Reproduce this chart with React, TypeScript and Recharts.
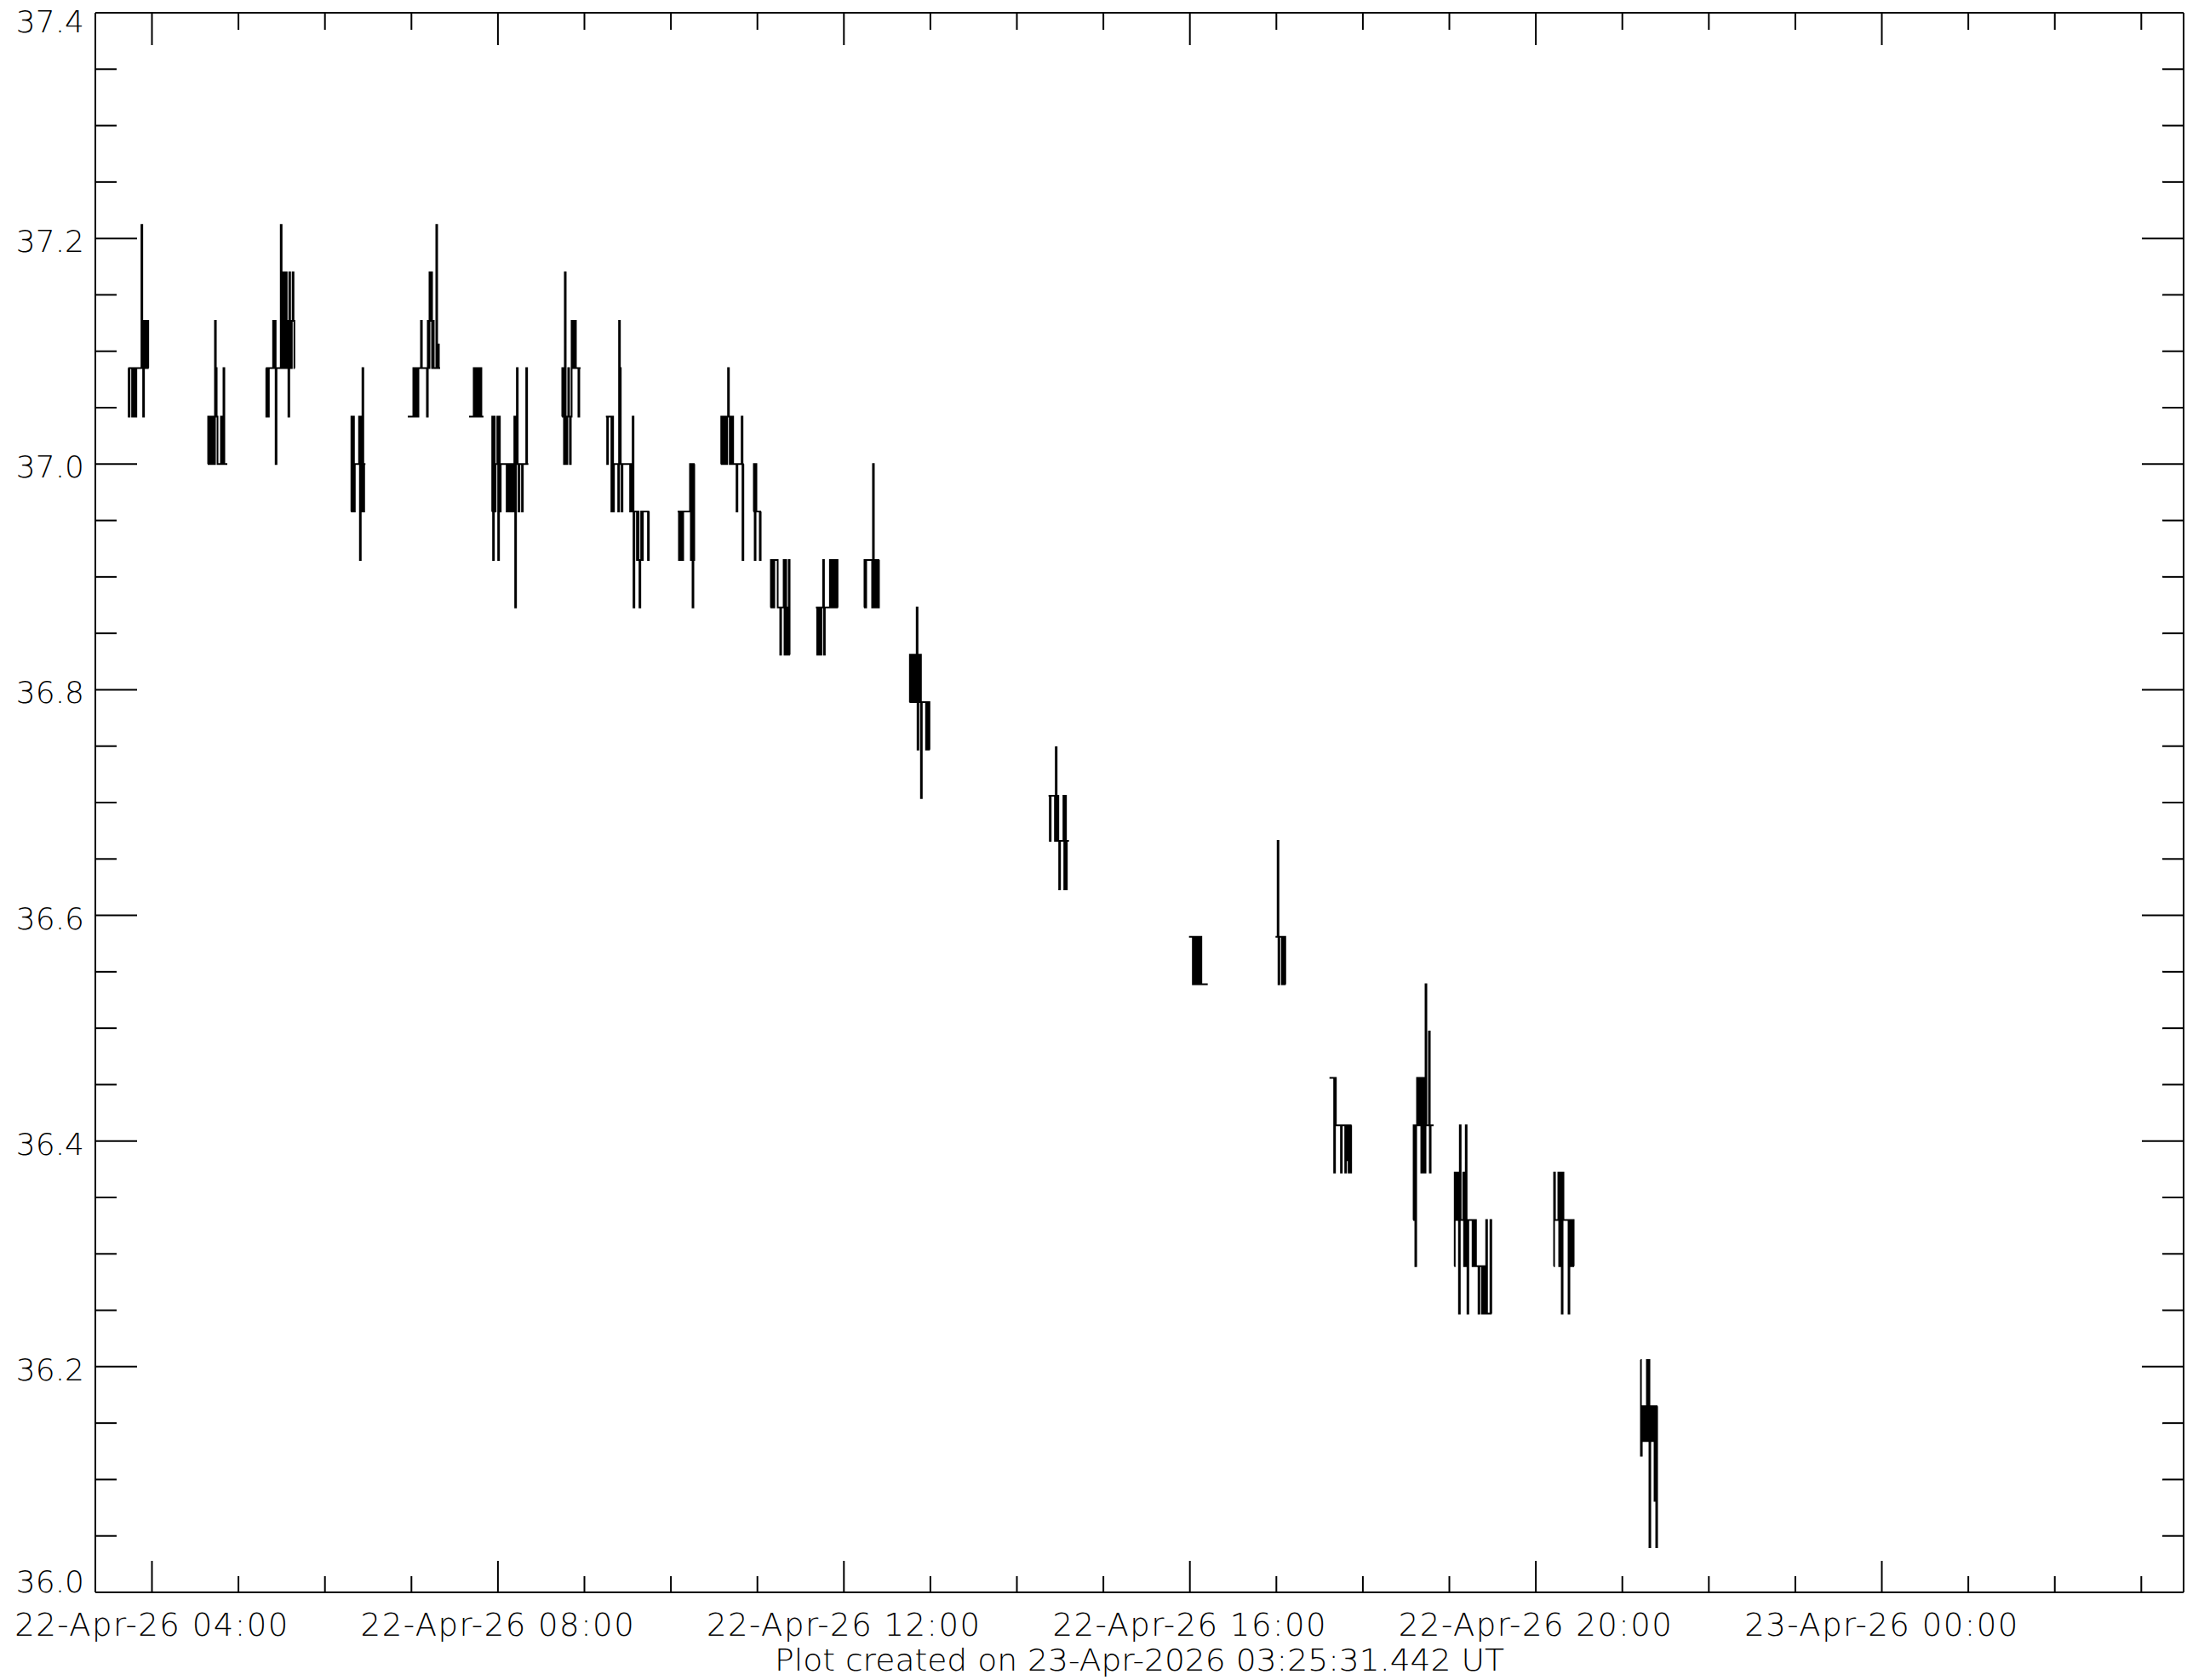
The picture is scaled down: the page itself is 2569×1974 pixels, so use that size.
import React from 'react';
import { LineChart, Line, XAxis, YAxis, Label } from 'recharts';

const CHART_W = 2569;
const CHART_H = 1974;
const FONT = '"DejaVu Sans", sans-serif';
const FONT_WEIGHT = 200;

// one reading every ~35 s while the sensor was reporting
const SAMPLE_SECONDS = 35.4;

// start of each burst of readings, in hours after 22-Apr-26 00:00 UT
const burstStartHours = [
  3.726, 4.645, 5.317, 6.301, 6.958, 7.666, 7.929, 8.739, 9.248, 10.078, 10.577, 10.954,
  11.151, 11.676, 12.233, 12.758, 14.366, 15.99, 16.99, 17.614, 18.582, 19.057, 20.206, 21.21,
];

// readings of each burst, in order
const burstReadings: number[][] = [
  [37.085, 37.042, 37.085, 37.085, 37.085, 37.042, 37.085, 37.042, 37.085, 37.042, 37.085, 37.085, 37.085,
    37.085, 37.085, 37.085, 37.212, 37.127, 37.042, 37.127, 37.085, 37.127, 37.085, 37.127, 37.085],
  [37.0, 37.042, 37.0, 37.042, 37.0, 37.042, 37.0, 37.042, 37.0, 37.127, 37.085, 37.042, 37.0, 37.0, 37.0,
    37.0, 37.042, 37.0, 37.042, 37.085, 37.0, 37.0, 37.0, 37.0],
  [37.085, 37.042, 37.085, 37.042, 37.085, 37.085, 37.085, 37.085, 37.085, 37.127, 37.085, 37.127, 37.0,
    37.085, 37.085, 37.085, 37.085, 37.085, 37.212, 37.127, 37.085, 37.17, 37.127, 37.085, 37.17, 37.085,
    37.127, 37.042, 37.17, 37.127, 37.085, 37.127, 37.17, 37.127, 37.085],
  [36.958, 37.042, 36.958, 37.042, 36.958, 37.0, 37.0, 37.0, 37.0, 37.0, 37.042, 36.915, 37.042, 36.958,
    37.085, 36.958, 37.0, 37.0],
  [37.042, 37.042, 37.042, 37.042, 37.042, 37.042, 37.042, 37.085, 37.042, 37.085, 37.042, 37.085, 37.042,
    37.085, 37.085, 37.085, 37.127, 37.085, 37.085, 37.085, 37.085, 37.085, 37.085, 37.042, 37.127, 37.085,
    37.17, 37.127, 37.17, 37.085, 37.127, 37.085, 37.085, 37.085, 37.212, 37.085, 37.106, 37.085, 37.085],
  [37.042, 37.042, 37.042, 37.042, 37.042, 37.042, 37.085, 37.042, 37.085, 37.042, 37.085, 37.042, 37.085,
    37.042, 37.085, 37.042, 37.042, 37.042],
  [36.958, 37.042, 36.915, 37.042, 36.958, 37.0, 37.0, 37.042, 36.915, 37.042, 36.958, 37.0, 37.0, 37.0,
    37.0, 37.0, 37.0, 37.0, 36.958, 37.0, 36.958, 37.0, 36.958, 37.0, 36.958, 37.0, 36.958, 37.042, 36.873,
    37.042, 37.085, 37.0, 36.958, 37.0, 37.0, 37.0, 36.958, 37.0, 37.0, 37.0, 37.0, 37.085, 37.0, 37.0],
  [37.042, 37.085, 37.042, 37.0, 37.17, 37.042, 37.0, 37.042, 37.085, 37.042, 37.0, 37.042, 37.127, 37.085,
    37.127, 37.085, 37.127, 37.085, 37.085, 37.085, 37.042, 37.085, 37.085],
  [37.042, 37.042, 37.0, 37.042, 37.042, 37.042, 37.042, 36.958, 37.042, 36.958, 37.0, 37.0, 37.0, 37.0,
    37.0, 36.958, 37.127, 37.085, 37.0, 36.958, 37.0, 37.0, 37.0, 37.0, 37.0, 37.0, 37.0, 37.0, 37.0,
    36.958, 37.0, 36.958, 37.042, 36.873, 36.958, 36.958, 36.958, 36.915, 36.958, 36.915, 36.873, 36.915,
    36.958, 36.915, 36.958, 36.958, 36.958, 36.958, 36.958, 36.958, 36.915, 36.958],
  [36.958, 36.958, 36.915, 36.958, 36.915, 36.958, 36.915, 36.958, 36.958, 36.958, 36.958, 36.958, 36.958,
    36.958, 36.958, 37.0, 36.915, 37.0, 36.873, 36.915, 37.0],
  [37.0, 37.042, 37.0, 37.042, 37.0, 37.0, 37.042, 37.0, 37.042, 37.085, 37.042, 37.0, 37.042, 37.0, 37.042,
    37.0, 37.0, 37.0, 37.0, 36.958, 37.0, 37.0, 37.0, 37.0, 37.0, 37.042, 36.915, 37.0],
  [36.958, 37.0, 36.915, 37.0, 36.958, 36.958, 36.958, 36.958, 36.915, 36.958],
  [36.873, 36.915, 36.873, 36.915, 36.873, 36.915, 36.915, 36.915, 36.915, 36.873, 36.873, 36.873, 36.831,
    36.873, 36.873, 36.873, 36.915, 36.831, 36.915, 36.831, 36.873, 36.831, 36.915, 36.831],
  [36.873, 36.873, 36.831, 36.873, 36.831, 36.873, 36.831, 36.873, 36.873, 36.915, 36.831, 36.873, 36.873,
    36.873, 36.873, 36.873, 36.873, 36.915, 36.873, 36.915, 36.873, 36.915, 36.873, 36.915, 36.873, 36.915,
    36.873],
  [36.873, 36.915, 36.873, 36.915, 36.915, 36.915, 36.915, 36.915, 36.915, 36.915, 36.873, 37.0, 36.915,
    36.873, 36.915, 36.873, 36.915, 36.873, 36.915],
  [36.789, 36.831, 36.789, 36.831, 36.789, 36.831, 36.789, 36.831, 36.789, 36.873, 36.747, 36.831, 36.789,
    36.831, 36.704, 36.789, 36.789, 36.789, 36.789, 36.789, 36.747, 36.789, 36.747, 36.789, 36.747],
  [36.706, 36.706, 36.666, 36.706, 36.706, 36.706, 36.706, 36.706, 36.666, 36.749, 36.666, 36.706, 36.666,
    36.623, 36.666, 36.666, 36.666, 36.666, 36.706, 36.623, 36.706, 36.623, 36.666, 36.666, 36.666],
  [36.581, 36.581, 36.581, 36.581, 36.581, 36.539, 36.581, 36.539, 36.581, 36.539, 36.581, 36.539, 36.581,
    36.539, 36.581, 36.539, 36.539, 36.539, 36.539, 36.539, 36.539, 36.539, 36.539],
  [36.581, 36.581, 36.581, 36.666, 36.539, 36.581, 36.581, 36.581, 36.539, 36.581, 36.539, 36.581, 36.539],
  [36.456, 36.456, 36.456, 36.456, 36.456, 36.456, 36.372, 36.456, 36.414, 36.414, 36.414, 36.414, 36.414,
    36.414, 36.372, 36.414, 36.414, 36.414, 36.414, 36.372, 36.414, 36.383, 36.414, 36.372, 36.414, 36.372,
    36.414],
  [36.33, 36.414, 36.33, 36.289, 36.414, 36.456, 36.414, 36.456, 36.414, 36.456, 36.372, 36.456, 36.372,
    36.456, 36.372, 36.539, 36.414, 36.414, 36.414, 36.497, 36.372, 36.414, 36.414, 36.414, 36.414],
  [36.289, 36.372, 36.33, 36.372, 36.33, 36.372, 36.247, 36.414, 36.33, 36.33, 36.33, 36.372, 36.289,
    36.372, 36.414, 36.289, 36.247, 36.33, 36.33, 36.33, 36.33, 36.33, 36.289, 36.33, 36.289, 36.33, 36.289,
    36.289, 36.289, 36.247, 36.289, 36.289, 36.289, 36.247, 36.289, 36.247, 36.289, 36.247, 36.33, 36.247,
    36.247, 36.247, 36.247, 36.33, 36.247],
  [36.289, 36.372, 36.33, 36.33, 36.33, 36.33, 36.372, 36.289, 36.372, 36.289, 36.247, 36.372, 36.33,
    36.33, 36.33, 36.33, 36.33, 36.33, 36.247, 36.33, 36.289, 36.33, 36.289, 36.33, 36.289],
  [36.206, 36.121, 36.165, 36.134, 36.165, 36.134, 36.165, 36.134, 36.206, 36.134, 36.206, 36.04, 36.165,
    36.134, 36.165, 36.134, 36.165, 36.081, 36.165, 36.04, 36.165],
];

// axis ranges and ticks
const hourDomain: [number, number] = [3.3455, 27.489];
const hourTicks = [4, 5, 6, 7, 8, 9, 10, 11, 12, 13, 14, 15, 16, 17, 18, 19, 20, 21, 22, 23, 24, 25, 26, 27];
const tempDomain: [number, number] = [36.0, 37.4];
const tempTicks = [
  36.0, 36.05, 36.1, 36.15, 36.2, 36.25, 36.3, 36.35, 36.4, 36.45, 36.5, 36.55, 36.6, 36.65, 36.7,
  36.75, 36.8, 36.85, 36.9, 36.95, 37.0, 37.05, 37.1, 37.15, 37.2, 37.25, 37.3, 37.35, 37.4,
];
const footerText = 'Plot created on 23-Apr-2026 03:25:31.442 UT';

type Row = { hour: number; temp: number | null };
const rows: Row[] = [];
burstStartHours.forEach((start, b) => {
  const vals = burstReadings[b];
  vals.forEach((temp, i) => rows.push({ hour: start + (i * SAMPLE_SECONDS) / 3600, temp }));
  // break the line between bursts
  rows.push({ hour: start + (vals.length * SAMPLE_SECONDS) / 3600, temp: null });
});

const pad = (n: number) => String(n).padStart(2, '0');
const hourLabel = (h: number) => {
  const day = 22 + Math.floor(h / 24);
  return `${day}-Apr-26 ${pad(h % 24)}:00`;
};
const isMajorTemp = (v: number) => Math.abs(v * 5 - Math.round(v * 5)) < 1e-6;

const BottomTick = (props: any) => {
  const { x, y, payload } = props;
  const major = payload.value % 4 === 0;
  return (
    <g>
      <line x1={x} y1={y} x2={x} y2={y - (major ? 37 : 19)} stroke="#000" strokeWidth={2} />
      {major && (
        <text x={x} y={y + 51} textAnchor="middle" fontFamily={FONT} fontWeight={FONT_WEIGHT} fontSize={37}
          fill="#000" letterSpacing={1.5}>
          {hourLabel(payload.value)}
        </text>
      )}
    </g>
  );
};

const TopTick = (props: any) => {
  const { x, y, payload } = props;
  const major = payload.value % 4 === 0;
  return <line x1={x} y1={y} x2={x} y2={y + (major ? 38 : 20)} stroke="#000" strokeWidth={2} />;
};

const LeftTick = (props: any) => {
  const { x, y, payload } = props;
  const v = payload.value;
  const major = isMajorTemp(v);
  let base = y + 16;
  if (v >= tempDomain[1] - 1e-6) base = y + 23;
  if (v <= tempDomain[0] + 1e-6) base = y;
  return (
    <g>
      <line x1={x} y1={y} x2={x + (major ? 49 : 25)} y2={y} stroke="#000" strokeWidth={2} />
      {major && (
        <text x={x - 13} y={base} textAnchor="end" fontFamily={FONT} fontWeight={FONT_WEIGHT} fontSize={36}
          fill="#000">
          {v.toFixed(1)}
        </text>
      )}
    </g>
  );
};

const RightTick = (props: any) => {
  const { x, y, payload } = props;
  const major = isMajorTemp(payload.value);
  return <line x1={x} y1={y} x2={x - (major ? 49 : 25)} y2={y} stroke="#000" strokeWidth={2} />;
};

const Footer = (props: any) => {
  const { x, y, width } = props.viewBox;
  return (
    <text x={x + width / 2} y={y + 92} textAnchor="middle" fontFamily={FONT} fontWeight={FONT_WEIGHT}
      fontSize={36} fill="#000" textLength={857} lengthAdjust="spacingAndGlyphs">
      {footerText}
    </text>
  );
};

const axisLine = { stroke: '#000', strokeWidth: 2 };

export default function App() {
  return (
    <div style={{ position: 'absolute', left: 0, top: 0, width: CHART_W, height: CHART_H, background: '#fff' }}>
      <LineChart width={CHART_W} height={CHART_H} data={rows} margin={{ top: 0, right: 0, bottom: 0, left: 0 }}>
        <XAxis
          xAxisId="bottom"
          dataKey="hour"
          type="number"
          domain={hourDomain}
          ticks={hourTicks}
          allowDataOverflow
          interval={0}
          height={103}
          axisLine={axisLine}
          tickLine={false}
          tickSize={0}
          tickMargin={0}
          tick={BottomTick}
          label={<Label content={Footer} />}
        />
        <XAxis
          xAxisId="top"
          orientation="top"
          dataKey="hour"
          type="number"
          domain={hourDomain}
          ticks={hourTicks}
          allowDataOverflow
          interval={0}
          height={15}
          axisLine={axisLine}
          tickLine={false}
          tickSize={0}
          tickMargin={0}
          tick={TopTick}
        />
        <YAxis
          yAxisId="left"
          type="number"
          domain={tempDomain}
          ticks={tempTicks}
          allowDataOverflow
          interval={0}
          width={112}
          axisLine={axisLine}
          tickLine={false}
          tickSize={0}
          tickMargin={0}
          tick={LeftTick}
        />
        <YAxis
          yAxisId="right"
          orientation="right"
          type="number"
          domain={tempDomain}
          ticks={tempTicks}
          allowDataOverflow
          interval={0}
          width={4}
          axisLine={axisLine}
          tickLine={false}
          tickSize={0}
          tickMargin={0}
          tick={RightTick}
        />
        <Line
          xAxisId="bottom"
          yAxisId="left"
          dataKey="temp"
          type="step"
          stroke="#000"
          strokeWidth={2}
          dot={false}
          activeDot={false}
          connectNulls={false}
          isAnimationActive={false}
        />
      </LineChart>
    </div>
  );
}
